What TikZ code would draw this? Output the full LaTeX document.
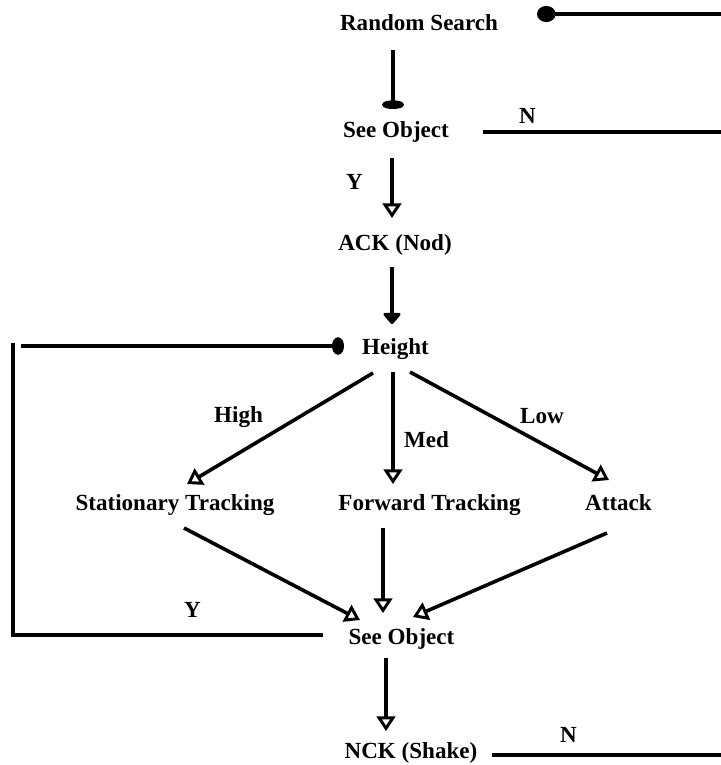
\documentclass[tikz,border=0pt]{standalone}
\usepackage{fontspec}
\setmainfont{Liberation Serif}
\usetikzlibrary{arrows.meta,calc}
\begin{document}
\begin{tikzpicture}[x=0.75pt,y=-0.75pt,
  lbl/.style={font=\bfseries\fontsize{17.3}{20}\selectfont, inner sep=0pt, anchor=base},
  conn/.style={line width=2.7pt},
  blobA/.style={conn,-{Circle[length=6.5pt,width=16pt]}},
  blobB/.style={conn,-{Circle[length=14pt,width=12pt]}},
  blobC/.style={conn,-{Triangle[round,length=9pt,width=15pt]}},
  blobD/.style={conn,-{Circle[length=9pt,width=13pt]}},
  tri/.style={conn,-{Triangle[open,length=11pt,width=14pt,line width=2.2pt]}}]
\useasboundingbox (0,0) rectangle (721,765);
% nodes
\node[lbl] (rs)  at (419,30)  {Random Search};
\node[lbl] (so1) at (396,137) {See Object};
\node[lbl] (ack) at (395,250) {ACK (Nod)};
\node[lbl] (h)   at (395.5,354) {Height};
\node[lbl] (st)  at (175,510) {Stationary Tracking};
\node[lbl] (fw)  at (429.5,510) {Forward Tracking};
\node[lbl] (at)  at (618.5,510) {Attack};
\node[lbl] (so2) at (401.5,644) {See Object};
\node[lbl] (nck) at (411,758) {NCK (Shake)};
% labels
\node[lbl] (n1)   at (527.5,123) {N};
\node[lbl] (y1)   at (354.5,189) {Y};
\node[lbl] (hi)   at (238.5,422) {High};
\node[lbl] (med)  at (426.5,447) {Med};
\node[lbl] (low)  at (542,423)   {Low};
\node[lbl] (y2)   at (192.5,617) {Y};
\node[lbl] (n2)   at (568.5,742) {N};
% free-end coordinates
\coordinate (e1) at (721,132);
\coordinate (e2) at (721,14);
\coordinate (e3) at (721,755);
\coordinate (c1) at (13,635);
\coordinate (c2) at (13,343);
\coordinate (c3) at (21,346);
% connectors
\draw[blobA] ($(rs.base)+(-26,20)$) -- ($(so1.base)+(-3,-28)$);
\draw[conn] ($(so1.base)+(87,-5)$) -- (e1);
\draw[blobB] (e2) -- ($(rs.base)+(118,-16)$);
\draw[tri]  ($(so1.base)+(-4,21)$) -- ($(ack.base)+(-3,-32)$);
\draw[blobC] ($(ack.base)+(-3,17)$) -- ($(h.base)+(-3.5,-30)$);
\draw[conn] ($(so2.base)+(-78.5,-9)$) -- (c1) -- (c2);
\draw[blobD] (c3) -- ($(h.base)+(-51.5,-8)$);
\draw[tri]  ($(h.base)+(-22.5,19)$) -- ($(st.base)+(12,-26)$);
\draw[tri]  ($(h.base)+(-2.5,18)$) -- ($(fw.base)+(-36.5,-26)$);
\draw[tri]  ($(h.base)+(14.5,18)$) -- ($(at.base)+(-9.5,-30)$);
\draw[tri]  ($(st.base)+(9,18)$) -- ($(so2.base)+(-41.5,-24)$);
\draw[tri]  ($(fw.base)+(-46.5,18)$) -- ($(so2.base)+(-18.5,-31)$);
\draw[tri]  ($(at.base)+(-11.5,23)$) -- ($(so2.base)+(11.5,-27)$);
\draw[tri]  ($(so2.base)+(-15.5,14)$) -- ($(nck.base)+(-25,-27)$);
\draw[conn] ($(nck.base)+(81,-3)$) -- (e3);
\end{tikzpicture}
\end{document}
